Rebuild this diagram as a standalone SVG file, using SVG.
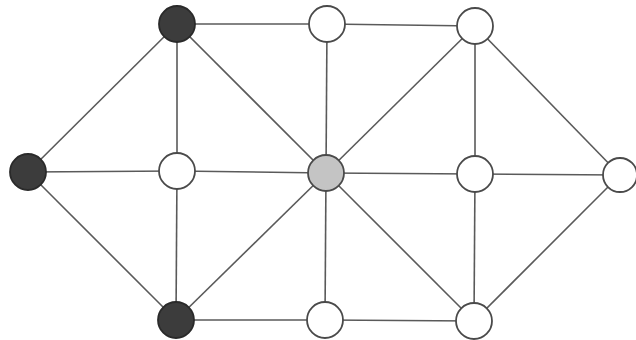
<svg xmlns="http://www.w3.org/2000/svg" width="636" height="340" viewBox="0 0 636 340">
<style>
.e{stroke:#5a5a5a;stroke-width:1.6;fill:none}
.n{stroke:#4a4a4a;stroke-width:1.8}
.w{fill:#ffffff}
.d{fill:#3c3c3c;stroke:#2a2a2a}
.g{fill:#c4c4c4}
</style>
<rect width="636" height="340" fill="#ffffff"/>
<g id="edges">
<line class="e" x1="177" y1="24" x2="327" y2="24"/>
<line class="e" x1="327" y1="24" x2="475" y2="26"/>
<line class="e" x1="177" y1="24" x2="28" y2="172"/>
<line class="e" x1="177" y1="24" x2="177" y2="171"/>
<line class="e" x1="177" y1="24" x2="326" y2="173"/>
<line class="e" x1="327" y1="24" x2="326" y2="173"/>
<line class="e" x1="475" y1="26" x2="326" y2="173"/>
<line class="e" x1="475" y1="26" x2="475" y2="174"/>
<line class="e" x1="475" y1="26" x2="620" y2="175"/>
<line class="e" x1="28" y1="172" x2="177" y2="171"/>
<line class="e" x1="177" y1="171" x2="326" y2="173"/>
<line class="e" x1="326" y1="173" x2="475" y2="174"/>
<line class="e" x1="475" y1="174" x2="620" y2="175"/>
<line class="e" x1="28" y1="172" x2="176" y2="320"/>
<line class="e" x1="177" y1="171" x2="176" y2="320"/>
<line class="e" x1="176" y1="320" x2="326" y2="173"/>
<line class="e" x1="326" y1="173" x2="325" y2="320"/>
<line class="e" x1="326" y1="173" x2="474" y2="321"/>
<line class="e" x1="176" y1="320" x2="325" y2="320"/>
<line class="e" x1="325" y1="320" x2="474" y2="321"/>
<line class="e" x1="475" y1="174" x2="474" y2="321"/>
<line class="e" x1="474" y1="321" x2="620" y2="175"/>
</g>
<g id="nA"><circle class="n d" cx="177" cy="24" r="18"/></g>
<g id="nB"><circle class="n w" cx="327" cy="24" r="18"/></g>
<g id="nC"><circle class="n w" cx="475" cy="26" r="18"/></g>
<g id="nD"><circle class="n d" cx="28" cy="172" r="18"/></g>
<g id="nE"><circle class="n w" cx="177" cy="171" r="18"/></g>
<g id="nF"><circle class="n g" cx="326" cy="173" r="18"/></g>
<g id="nG"><circle class="n w" cx="475" cy="174" r="18"/></g>
<g id="nH"><circle class="n w" cx="620" cy="175" r="17"/></g>
<g id="nI"><circle class="n d" cx="176" cy="320" r="18"/></g>
<g id="nJ"><circle class="n w" cx="325" cy="320" r="18"/></g>
<g id="nK"><circle class="n w" cx="474" cy="321" r="18"/></g>
</svg>
